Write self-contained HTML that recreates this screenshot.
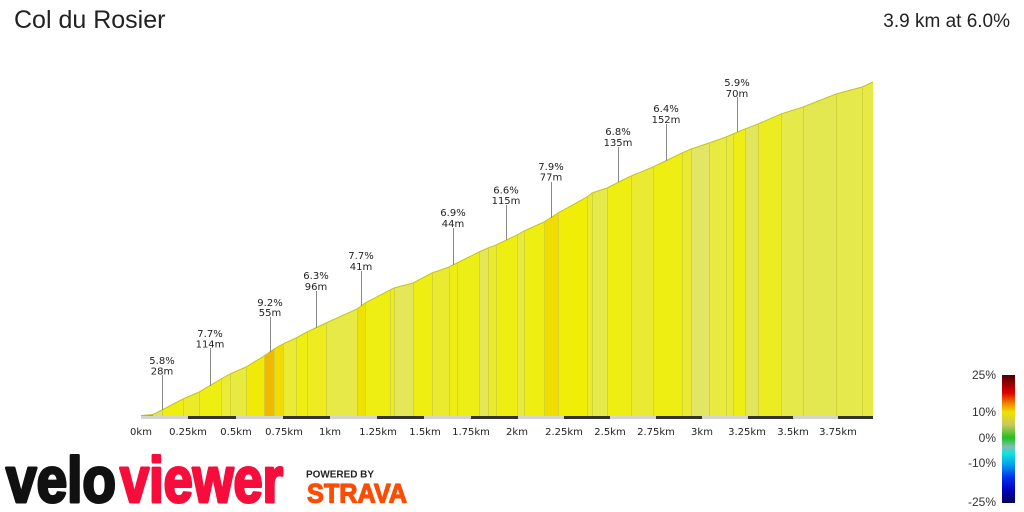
<!DOCTYPE html>
<html><head><meta charset="utf-8"><style>
html,body{margin:0;padding:0;background:#fff;}
svg{display:block;}
</style></head><body>
<svg width="1024" height="512" viewBox="0 0 1024 512" xmlns="http://www.w3.org/2000/svg">
<rect width="1024" height="512" fill="#fff"/>
<text x="14" y="28" font-family="Liberation Sans, Arial, sans-serif" font-size="25" fill="#222">Col du Rosier</text>
<text x="1010" y="27" text-anchor="end" font-family="Liberation Sans, Arial, sans-serif" font-size="19" fill="#222">3.9 km at 6.0%</text>

<g stroke="none">
<polygon points="141,416 141,415.5 153,414.5 153,416" fill="#6cc040"/>
<polygon points="153,416 153,414.5 162,410 162,416" fill="#dfe370"/>
<polygon points="162,416 162,410 183,399 183,416" fill="#eeee12"/>
<polygon points="183,416 183,399 199,392 199,416" fill="#ebeb28"/>
<polygon points="199,416 199,392 221,379 221,416" fill="#eeee12"/>
<polygon points="221,416 221,379 230,374 230,416" fill="#eaeb34"/>
<polygon points="230,416 230,374 246,367 246,416" fill="#e8ea40"/>
<polygon points="246,416 246,367 264,356 264,416" fill="#efea08"/>
<polygon points="264,416 264,356 274,349 274,416" fill="#f0b800"/>
<polygon points="274,416 274,349 283,344 283,416" fill="#f0dc00"/>
<polygon points="283,416 283,344 296,338 296,416" fill="#eaeb34"/>
<polygon points="296,416 296,338 307,332 307,416" fill="#eeee12"/>
<polygon points="307,416 307,332 326,323 326,416" fill="#ecec20"/>
<polygon points="326,416 326,323 357,309 357,416" fill="#e6e946"/>
<polygon points="357,416 357,309 365,303 365,416" fill="#f0e200"/>
<polygon points="365,416 365,303 390,290 390,416" fill="#eeee12"/>
<polygon points="390,416 390,290 394,288 394,416" fill="#ecec20"/>
<polygon points="394,416 394,288 413,283 413,416" fill="#e4e858"/>
<polygon points="413,416 413,283 432,273 432,416" fill="#eeee12"/>
<polygon points="432,416 432,273 449,267 449,416" fill="#eaeb30"/>
<polygon points="449,416 449,267 457,263 457,416" fill="#eeee12"/>
<polygon points="457,416 457,263 479,252 479,416" fill="#edee16"/>
<polygon points="479,416 479,252 488,248 488,416" fill="#e4e858"/>
<polygon points="488,416 488,248 496,245 496,416" fill="#eaeb30"/>
<polygon points="496,416 496,245 517,235 517,416" fill="#eeee12"/>
<polygon points="517,416 517,235 524,231 524,416" fill="#e8ea40"/>
<polygon points="524,416 524,231 544,222 544,416" fill="#eeee12"/>
<polygon points="544,416 544,222 558,213 558,416" fill="#f0de00"/>
<polygon points="558,416 558,213 587,197 587,416" fill="#f0ee06"/>
<polygon points="587,416 587,197 592,193 592,416" fill="#eaeb30"/>
<polygon points="592,416 592,193 607,188 607,416" fill="#e6e94a"/>
<polygon points="607,416 607,188 631,176 631,416" fill="#eeee12"/>
<polygon points="631,416 631,176 653,167 653,416" fill="#eaeb30"/>
<polygon points="653,416 653,167 682,153 682,416" fill="#eeee12"/>
<polygon points="682,416 682,153 691,149 691,416" fill="#eaeb30"/>
<polygon points="691,416 691,149 709,143 709,416" fill="#e2e664"/>
<polygon points="709,416 709,143 726,137 726,416" fill="#e8ea40"/>
<polygon points="726,416 726,137 733,134 733,416" fill="#e8ea3c"/>
<polygon points="733,416 733,134 745,129 745,416" fill="#eeee16"/>
<polygon points="745,416 745,129 758,124 758,416" fill="#e2e65e"/>
<polygon points="758,416 758,124 781,114 781,416" fill="#ecec22"/>
<polygon points="781,416 781,114 803,107 803,416" fill="#e6e94a"/>
<polygon points="803,416 803,107 836,94 836,416" fill="#e4e850"/>
<polygon points="836,416 836,94 862,87 862,416" fill="#e6e94c"/>
<polygon points="862,416 862,87 873,82 873,416" fill="#e6e946"/>
</g>
<g stroke="#cfcf3a" stroke-width="1" opacity="0.8">
<line x1="162.5" y1="410" x2="162.5" y2="416"/>
<line x1="183.5" y1="399" x2="183.5" y2="416"/>
<line x1="199.5" y1="392" x2="199.5" y2="416"/>
<line x1="221.5" y1="379" x2="221.5" y2="416"/>
<line x1="230.5" y1="374" x2="230.5" y2="416"/>
<line x1="246.5" y1="367" x2="246.5" y2="416"/>
<line x1="264.5" y1="356" x2="264.5" y2="416"/>
<line x1="274.5" y1="349" x2="274.5" y2="416"/>
<line x1="283.5" y1="344" x2="283.5" y2="416"/>
<line x1="296.5" y1="338" x2="296.5" y2="416"/>
<line x1="307.5" y1="332" x2="307.5" y2="416"/>
<line x1="326.5" y1="323" x2="326.5" y2="416"/>
<line x1="357.5" y1="309" x2="357.5" y2="416"/>
<line x1="365.5" y1="303" x2="365.5" y2="416"/>
<line x1="390.5" y1="290" x2="390.5" y2="416"/>
<line x1="394.5" y1="288" x2="394.5" y2="416"/>
<line x1="413.5" y1="283" x2="413.5" y2="416"/>
<line x1="432.5" y1="273" x2="432.5" y2="416"/>
<line x1="449.5" y1="267" x2="449.5" y2="416"/>
<line x1="457.5" y1="263" x2="457.5" y2="416"/>
<line x1="479.5" y1="252" x2="479.5" y2="416"/>
<line x1="488.5" y1="248" x2="488.5" y2="416"/>
<line x1="496.5" y1="245" x2="496.5" y2="416"/>
<line x1="517.5" y1="235" x2="517.5" y2="416"/>
<line x1="524.5" y1="231" x2="524.5" y2="416"/>
<line x1="544.5" y1="222" x2="544.5" y2="416"/>
<line x1="558.5" y1="213" x2="558.5" y2="416"/>
<line x1="587.5" y1="197" x2="587.5" y2="416"/>
<line x1="592.5" y1="193" x2="592.5" y2="416"/>
<line x1="607.5" y1="188" x2="607.5" y2="416"/>
<line x1="631.5" y1="176" x2="631.5" y2="416"/>
<line x1="653.5" y1="167" x2="653.5" y2="416"/>
<line x1="682.5" y1="153" x2="682.5" y2="416"/>
<line x1="691.5" y1="149" x2="691.5" y2="416"/>
<line x1="709.5" y1="143" x2="709.5" y2="416"/>
<line x1="726.5" y1="137" x2="726.5" y2="416"/>
<line x1="733.5" y1="134" x2="733.5" y2="416"/>
<line x1="745.5" y1="129" x2="745.5" y2="416"/>
<line x1="758.5" y1="124" x2="758.5" y2="416"/>
<line x1="781.5" y1="114" x2="781.5" y2="416"/>
<line x1="803.5" y1="107" x2="803.5" y2="416"/>
<line x1="836.5" y1="94" x2="836.5" y2="416"/>
<line x1="862.5" y1="87" x2="862.5" y2="416"/>
</g>
<polyline fill="none" stroke="#c4c41c" stroke-width="1" points="141,415.5 153,414.5 162,410 183,399 199,392 221,379 230,374 246,367 264,356 274,349 283,344 296,338 307,332 326,323 357,309 365,303 390,290 394,288 413,283 432,273 449,267 457,263 479,252 488,248 496,245 517,235 524,231 544,222 558,213 587,197 592,193 607,188 631,176 653,167 682,153 691,149 709,143 726,137 733,134 745,129 758,124 781,114 803,107 836,94 862,87 873,82"/>

<g stroke="#8a8a8a" stroke-width="1">
<line x1="162.5" y1="375" x2="162.5" y2="410"/>
<line x1="210.5" y1="348" x2="210.5" y2="386"/>
<line x1="270.5" y1="317" x2="270.5" y2="352"/>
<line x1="316.5" y1="291" x2="316.5" y2="328"/>
<line x1="361.5" y1="271" x2="361.5" y2="306"/>
<line x1="453.5" y1="228" x2="453.5" y2="265"/>
<line x1="506.5" y1="205" x2="506.5" y2="240"/>
<line x1="551.5" y1="182" x2="551.5" y2="218"/>
<line x1="618.5" y1="147" x2="618.5" y2="182"/>
<line x1="666.5" y1="124" x2="666.5" y2="161"/>
<line x1="737.5" y1="97" x2="737.5" y2="132"/>
</g>
<g font-family="DejaVu Sans, Verdana, sans-serif" font-size="10" fill="#222" text-anchor="middle">
<text x="162" y="364">5.8%</text><text x="162" y="374.5">28m</text>
<text x="210" y="337">7.7%</text><text x="210" y="347.5">114m</text>
<text x="270" y="306">9.2%</text><text x="270" y="316">55m</text>
<text x="316" y="279">6.3%</text><text x="316" y="290">96m</text>
<text x="361" y="259">7.7%</text><text x="361" y="270">41m</text>
<text x="453" y="216">6.9%</text><text x="453" y="227">44m</text>
<text x="506" y="193.5">6.6%</text><text x="506" y="204">115m</text>
<text x="551" y="170">7.9%</text><text x="551" y="180.5">77m</text>
<text x="618" y="135">6.8%</text><text x="618" y="146">135m</text>
<text x="666" y="112">6.4%</text><text x="666" y="123">152m</text>
<text x="737" y="86">5.9%</text><text x="737" y="97">70m</text>
</g>

<g>
<rect x="141" y="416" width="732" height="3" fill="#d4d4d4"/>
<rect x="188" y="416" width="48" height="3" fill="#333"/>
<rect x="283" y="416" width="47" height="3" fill="#333"/>
<rect x="377" y="416" width="47" height="3" fill="#333"/>
<rect x="471" y="416" width="47" height="3" fill="#333"/>
<rect x="564" y="416" width="46" height="3" fill="#333"/>
<rect x="656" y="416" width="46" height="3" fill="#333"/>
<rect x="748" y="416" width="45" height="3" fill="#333"/>
<rect x="838" y="416" width="35" height="3" fill="#333"/>
</g>
<g font-family="DejaVu Sans, Verdana, sans-serif" font-size="10" fill="#222" text-anchor="middle">
<text x="141" y="435">0km</text>
<text x="188" y="435">0.25km</text>
<text x="236" y="435">0.5km</text>
<text x="284" y="435">0.75km</text>
<text x="330" y="435">1km</text>
<text x="378" y="435">1.25km</text>
<text x="425" y="435">1.5km</text>
<text x="471" y="435">1.75km</text>
<text x="517" y="435">2km</text>
<text x="564" y="435">2.25km</text>
<text x="610" y="435">2.5km</text>
<text x="656" y="435">2.75km</text>
<text x="702" y="435">3km</text>
<text x="747" y="435">3.25km</text>
<text x="793" y="435">3.5km</text>
<text x="838" y="435">3.75km</text>
</g>

<defs>
<linearGradient id="lg" x1="0" y1="0" x2="0" y2="1">
<stop offset="0" stop-color="#4a0000"/>
<stop offset="0.08" stop-color="#a00000"/>
<stop offset="0.14" stop-color="#e00000"/>
<stop offset="0.22" stop-color="#f08000"/>
<stop offset="0.29" stop-color="#f0e000"/>
<stop offset="0.39" stop-color="#c8c860"/>
<stop offset="0.49" stop-color="#20c020"/>
<stop offset="0.56" stop-color="#80c0b0"/>
<stop offset="0.62" stop-color="#10e0e0"/>
<stop offset="0.70" stop-color="#00a0f0"/>
<stop offset="0.80" stop-color="#0030f0"/>
<stop offset="0.90" stop-color="#0000c0"/>
<stop offset="1" stop-color="#000050"/>
</linearGradient>
</defs>
<rect x="1002" y="375" width="13" height="128" fill="url(#lg)"/>
<g font-family="Liberation Sans, Arial, sans-serif" font-size="12" fill="#333" text-anchor="end">
<text x="996" y="379">25%</text>
<text x="996" y="416">10%</text>
<text x="996" y="442">0%</text>
<text x="996" y="467">-10%</text>
<text x="996" y="506">-25%</text>
</g>

<text x="6" y="502" font-family="Liberation Sans, Arial, sans-serif" font-weight="bold" font-size="64" fill="#111" stroke="#111" stroke-width="3" stroke-linejoin="round" textLength="110" lengthAdjust="spacingAndGlyphs">velo</text>
<text x="120" y="502" font-family="Liberation Sans, Arial, sans-serif" font-weight="bold" font-size="64" fill="#f70d3b" stroke="#f70d3b" stroke-width="3" stroke-linejoin="round" textLength="163" lengthAdjust="spacingAndGlyphs">viewer</text>
<text x="306" y="477.5" font-family="Liberation Sans, Arial, sans-serif" font-weight="bold" font-size="10" fill="#222" textLength="68" lengthAdjust="spacingAndGlyphs">POWERED BY</text>
<text x="307" y="502.5" font-family="Liberation Sans, Arial, sans-serif" font-weight="bold" font-size="27" fill="#fc4c02" stroke="#fc4c02" stroke-width="1.2" stroke-linejoin="round" textLength="100" lengthAdjust="spacingAndGlyphs">STRAVA</text>
</svg>
</body></html>
